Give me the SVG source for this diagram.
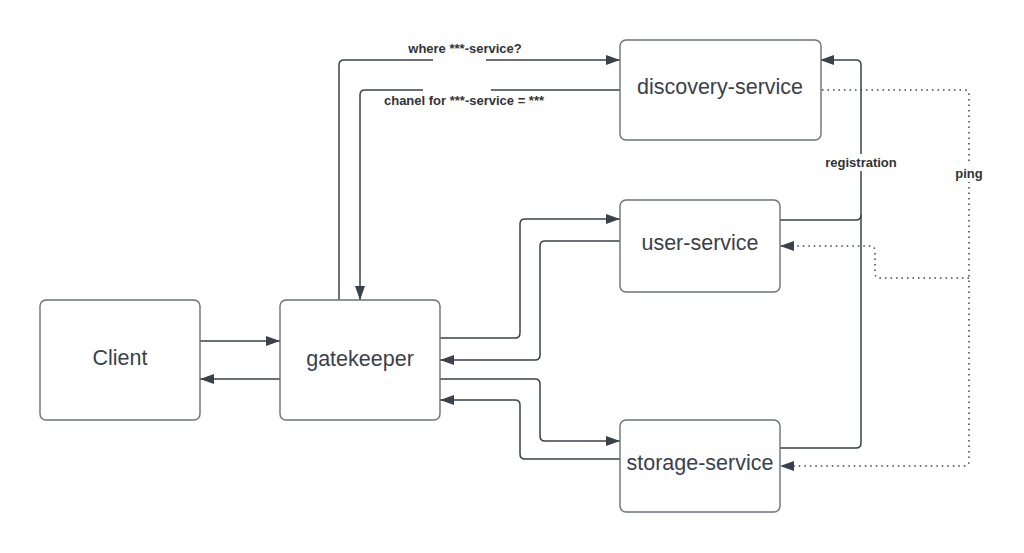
<svg xmlns="http://www.w3.org/2000/svg" width="1024" height="553" viewBox="0 0 1024 553">
<style>
.box{fill:#fff;stroke:#6b7079;stroke-width:1.4}
.nt{font-family:"Liberation Sans",Arial,sans-serif;font-size:21.5px;fill:#3a414a;text-anchor:middle;dominant-baseline:central}
.ln{fill:none;stroke:#3a414a;stroke-width:1.5}
.dt{fill:none;stroke:#3a414a;stroke-width:1.5;stroke-dasharray:1.5 4}
.lb{font-family:"Liberation Sans",Arial,sans-serif;font-size:13px;font-weight:bold;fill:#333;text-anchor:middle;dominant-baseline:central}
</style>
<defs>
<marker id="ah" viewBox="0 0 14 10" refX="14" refY="5" markerWidth="14" markerHeight="10" markerUnits="userSpaceOnUse" orient="auto">
<path d="M0,0 L14,5 L0,10 Z" fill="#3a414a"/>
</marker>
</defs>
<rect width="1024" height="553" fill="#fff"/>
<g id="connectors">
<path class="ln" d="M200,341 H280" marker-end="url(#ah)"/>
<path class="ln" d="M280,379 H200" marker-end="url(#ah)"/>
<path class="ln" d="M339,300 V65 Q339,60 344,60 H433"/>
<path class="ln" d="M486,60 H620" marker-end="url(#ah)"/>
<path class="ln" d="M620,90 H491"/>
<path class="ln" d="M423,90 H365 Q360,90 360,95 V300" marker-end="url(#ah)"/>
<path class="ln" d="M440,338 H515 Q520,338 520,333 V224 Q520,219 525,219 H620" marker-end="url(#ah)"/>
<path class="ln" d="M620,241 H545 Q540,241 540,246 V355 Q540,360 535,360 H440" marker-end="url(#ah)"/>
<path class="ln" d="M440,379 H535 Q540,379 540,384 V436 Q540,441 545,441 H620" marker-end="url(#ah)"/>
<path class="ln" d="M620,459 H525 Q520,459 520,454 V405 Q520,400 515,400 H440" marker-end="url(#ah)"/>
<path class="ln" d="M780,220 H856 Q861,220 861,215 V65 Q861,60 856,60 H820" marker-end="url(#ah)"/>
<path class="ln" d="M780,448 H856 Q861,448 861,443 V215"/>
<path class="dt" d="M822,90 H964 Q969,90 969,95 V461 Q969,466 964,466 H780" marker-end="url(#ah)"/>
<path class="dt" d="M969,278 H880 Q875,278 875,273 V251 Q875,246 870,246 H780" marker-end="url(#ah)"/>
<rect x="822" y="154" width="78" height="17" fill="#fff"/>
<text class="lb" x="861" y="162">registration</text>
<rect x="952" y="165" width="34" height="17" fill="#fff"/>
<text class="lb" x="969" y="173">ping</text>
<text class="lb" x="465" y="48">where ***-service?</text>
<text class="lb" x="464" y="100">chanel for ***-service = ***</text>
</g>
<g id="client"><rect class="box" x="40" y="300" width="160" height="120" rx="6"/><text class="nt" x="120" y="358">Client</text></g>
<g id="gatekeeper"><rect class="box" x="280" y="300" width="160" height="120" rx="6"/><text class="nt" x="360" y="359">gatekeeper</text></g>
<g id="discovery-service"><rect class="box" x="620" y="40" width="201" height="100" rx="6"/><text class="nt" x="720" y="87">discovery-service</text></g>
<g id="user-service"><rect class="box" x="620" y="200" width="160" height="92" rx="6"/><text class="nt" x="700" y="243">user-service</text></g>
<g id="storage-service"><rect class="box" x="620" y="420" width="160" height="92" rx="6"/><text class="nt" x="700" y="463">storage-service</text></g>
</svg>
